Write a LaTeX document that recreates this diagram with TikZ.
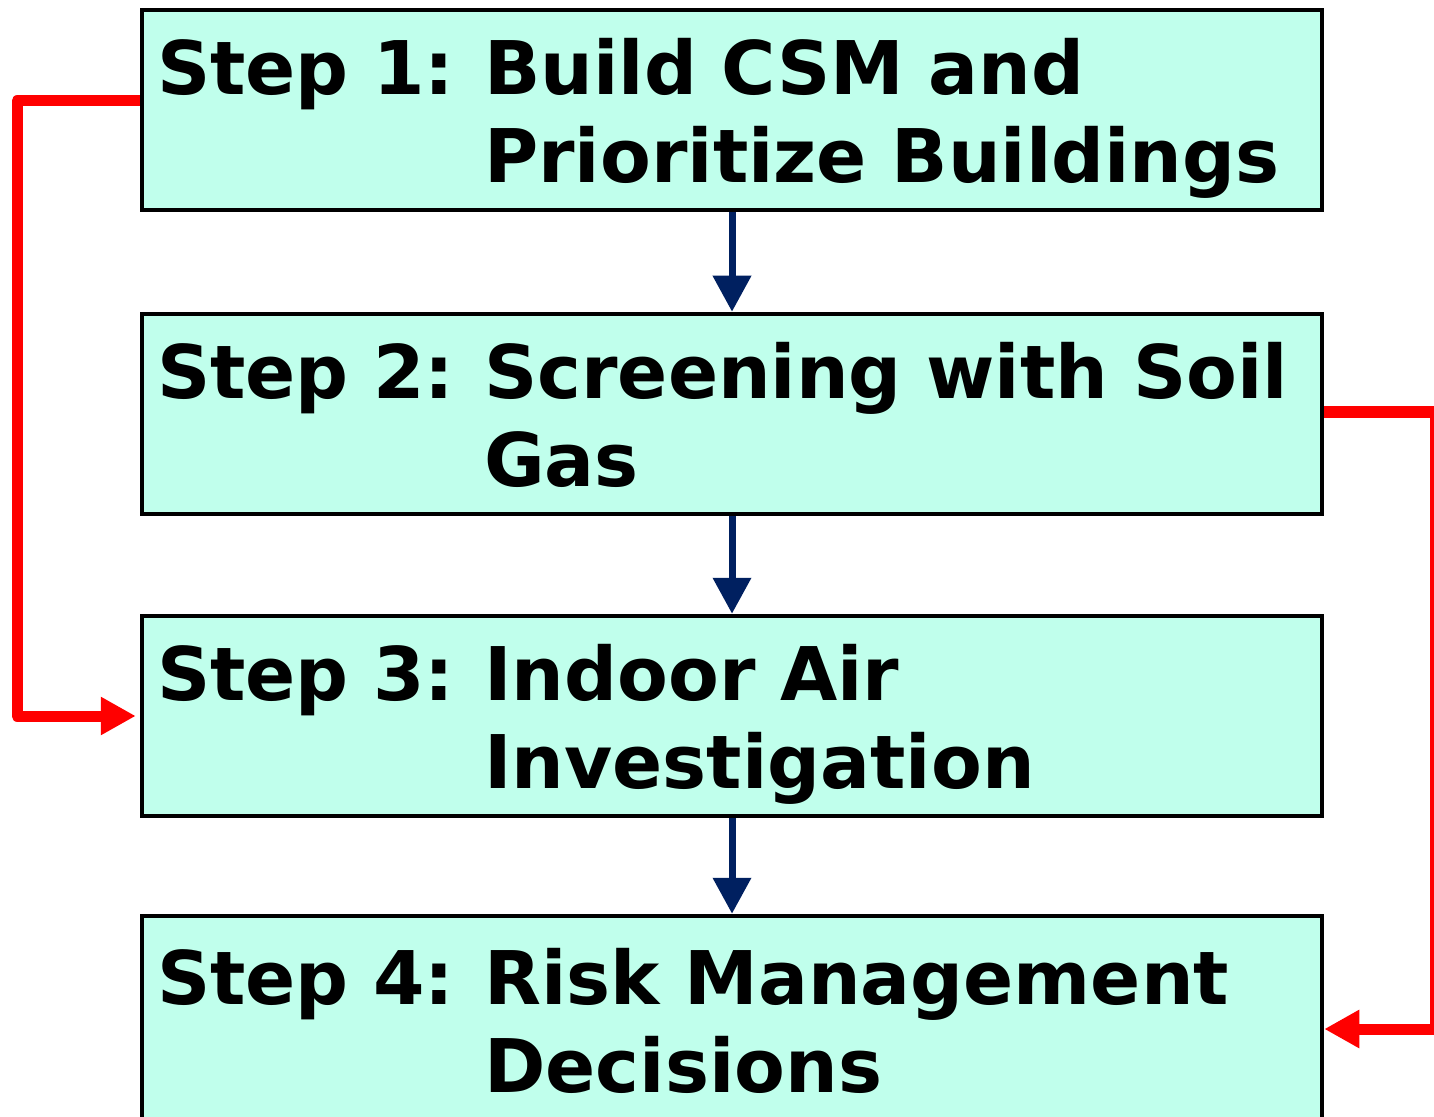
\documentclass[tikz,border=0pt]{standalone}
\usepackage{fontspec}
\setmainfont{DejaVu Sans}
\usetikzlibrary{arrows.meta}
\definecolor{boxfill}{RGB}{192,255,236}
\definecolor{flownavy}{RGB}{0,32,96}
\newcommand{\steplabel}[3]{Step~#1:\kern2.5pt~\begin{tabular}[t]{@{}l@{}}\rule{0pt}{42pt}#2\\#3\end{tabular}}

\begin{document}
\begin{tikzpicture}[x=0.5pt, y=-0.5pt,
    stepbox/.style={draw, line width=2.25pt, fill=boxfill, minimum width=590pt, minimum height=100pt,
      text width=575pt, inner xsep=7.5pt, inner ysep=0pt, align=left, font=\bfseries\fontsize{37}{44}\selectfont},
    down/.style={-{Triangle[width=18.5pt,length=18pt]}, line width=3.5pt, flownavy},
    skip/.style={-{Triangle[width=18pt,length=17.5pt]}, line width=5.5pt, red, line join=round}]
    \clip (0,0) rectangle (1434,1117);
    \node[stepbox] (s1) at (732,110) {\steplabel{1}{Build CSM and}{Prioritize Buildings}};
    \node[stepbox] (s2) at (732,414) {\steplabel{2}{Screening with Soil}{Gas}};
    \node[stepbox] (s3) at (732,716) {\steplabel{3}{Indoor Air}{Investigation}};
    \node[stepbox, minimum height=104pt] (s4) at (732,1020) {\steplabel{4}{Risk Management}{Decisions}};
    \draw[down] (s1) -- (s2);
    \draw[down] (s2) -- (s3);
    \draw[down] (s3) -- (s4);
    % red bypass lines
    \coordinate (lbend) at (17,101);
    \coordinate (rbend) at (1435,412);
    \draw[skip, shorten >=2pt] ([yshift=4.5pt]s1.west) -- (lbend) |- (s3.west);
    \draw[skip] ([yshift=1pt]s2.east) -- (rbend) |- ([yshift=-4.5pt]s4.east);
\end{tikzpicture}
\end{document}
